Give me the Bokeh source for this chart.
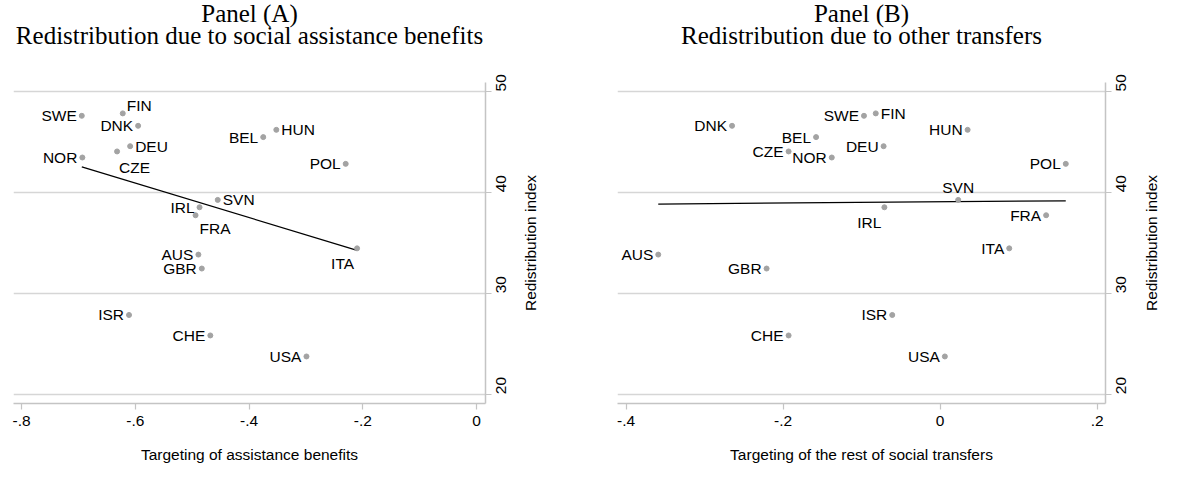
import math
import numpy as np
from bokeh.plotting import figure
from bokeh.layouts import row
from bokeh.models import FixedTicker, ColumnDataSource, Range1d, Title
from bokeh.core.properties import value
from bokeh.embed import file_html
from bokeh.resources import INLINE

# ---------------- data ----------------
countries = ["SWE", "FIN", "DNK", "DEU", "CZE", "NOR", "BEL", "HUN", "POL",
             "SVN", "IRL", "FRA", "AUS", "GBR", "ITA", "ISR", "CHE", "USA"]
redistribution = [47.58, 47.82, 46.59, 44.57, 44.05, 43.45, 45.47, 46.19, 42.82,
                  39.25, 38.52, 37.73, 33.83, 32.45, 34.45, 27.85, 25.82, 23.74]
targeting_assistance = [-0.694, -0.622, -0.595, -0.609, -0.632, -0.693, -0.375, -0.352, -0.230,
                        -0.455, -0.487, -0.494, -0.489, -0.483, -0.210, -0.611, -0.468, -0.299]
targeting_other = [-0.097, -0.082, -0.265, -0.072, -0.193, -0.138, -0.158, 0.035, 0.160,
                   0.023, -0.071, 0.135, -0.359, -0.221, 0.088, -0.061, -0.193, 0.006]

xticks_a = [-0.8, -0.6, -0.4, -0.2, 0.0]
xtick_labels_a = ["-.8", "-.6", "-.4", "-.2", "0"]
xticks_b = [-0.4, -0.2, 0.0, 0.2]
xtick_labels_b = ["-.4", "-.2", "0", ".2"]
yticks = [20, 30, 40, 50]
ytick_labels = ["20", "30", "40", "50"]
y_title = "Redistribution index"

# marker-label clock positions (styling)
pos_a = {"SWE": 9, "FIN": 2, "DNK": 9, "DEU": 3, "CZE": 5, "NOR": 9, "BEL": 9, "HUN": 3,
         "POL": 9, "SVN": 3, "IRL": 9, "FRA": 4, "AUS": 9, "GBR": 9, "ITA": 7, "ISR": 9,
         "CHE": 9, "USA": 9}
pos_b = {"SWE": 9, "FIN": 3, "DNK": 9, "DEU": 9, "CZE": 9, "NOR": 9, "BEL": 9, "HUN": 9,
         "POL": 9, "SVN": 12, "IRL": 7, "FRA": 9, "AUS": 9, "GBR": 9, "ITA": 9, "ISR": 9,
         "CHE": 9, "USA": 9}
clock = {9: ("right", -5, 0), 3: ("left", 5, 0), 12: ("center", 0, -12),
         2: ("left", 4, -8), 4: ("left", 4, 13), 5: ("left", 2, 16), 7: ("right", -3, 15)}

SANS = "Liberation Sans"
SERIF = "Liberation Serif"
FS = "15.5px"
GRID = "#d6d6d6"
AXIS = "#c4c4c4"
DOT = "#a3a3a3"
YR = (19.08, 50.88)
H, FH, BT, BB = 489, 321, 82, 86


def ytitle(text, standoff):
    return Title(text=text, align="center", text_font=SANS, text_font_size=FS,
                 text_font_style="normal", text_color="black", standoff=standoff)


def panel(xvals, xticks, xlabels, xr, title1, title2, xtitle, pos,
          border_left, frame_w, border_right, left_label_gap=None):
    p = figure(width=border_left + frame_w + border_right, height=H,
               frame_width=frame_w, frame_height=FH,
               x_range=Range1d(*xr), y_range=Range1d(*YR),
               y_axis_location="right", output_backend="svg",
               toolbar_location=None, tools="",
               min_border_left=border_left, min_border_right=border_right,
               min_border_top=BT, min_border_bottom=BB)
    p.outline_line_color = None
    p.background_fill_color = "white"
    p.border_fill_color = "white"

    # spacer between the title block and the plot frame, then two title lines
    p.add_layout(Title(text=" ", text_font_size="1px", standoff=31), "above")
    p.add_layout(Title(text=title2, align="center", text_font=SERIF,
                       text_font_size="25px", text_font_style="normal",
                       text_color="black", standoff=0), "above")
    p.add_layout(Title(text=title1, align="center", text_font=SERIF,
                       text_font_size="25px", text_font_style="normal",
                       text_color="black", standoff=-14), "above")

    # y title of the panel on the left (belongs to the previous panel's axis)
    if left_label_gap is not None:
        p.add_layout(Title(text=" ", text_font_size="1px", standoff=left_label_gap), "left")
        p.add_layout(ytitle(y_title, 0), "left")

    xa = p.xaxis[0]
    xa.ticker = FixedTicker(ticks=xticks)
    xa.major_label_overrides = {t: l for t, l in zip(xticks, xlabels)}
    xa.axis_label = xtitle
    ya = p.yaxis[0]
    ya.ticker = FixedTicker(ticks=yticks)
    ya.major_label_overrides = {t: l for t, l in zip(yticks, ytick_labels)}
    ya.major_label_orientation = math.pi / 2
    for ax in (xa, ya):
        ax.axis_line_color = AXIS
        ax.axis_line_width = 1.5
        ax.major_tick_line_color = AXIS
        ax.major_tick_line_width = 1.2
        ax.major_tick_in = 0
        ax.major_tick_out = 6
        ax.minor_tick_line_color = None
        ax.major_label_text_font = SANS
        ax.major_label_text_font_size = FS
        ax.major_label_text_color = "black"
        ax.axis_label_text_font = SANS
        ax.axis_label_text_font_size = FS
        ax.axis_label_text_font_style = "normal"
        ax.axis_label_text_color = "black"
    xa.major_label_standoff = 6
    xa.axis_label_standoff = 17
    ya.major_label_standoff = 10

    p.xgrid.visible = False
    p.ygrid.ticker = FixedTicker(ticks=yticks)
    p.ygrid.grid_line_color = GRID
    p.ygrid.grid_line_width = 1.6

    # fitted line (OLS of redistribution on targeting)
    slope, icpt = np.polyfit(np.array(xvals), np.array(redistribution), 1)
    fx = np.array([min(xvals), max(xvals)])
    p.line(fx, icpt + slope * fx, line_color="black", line_width=1.2)

    src = ColumnDataSource(dict(
        x=xvals, y=redistribution, name=countries,
        align=[clock[pos[c]][0] for c in countries],
        dx=[clock[pos[c]][1] for c in countries],
        dy=[clock[pos[c]][2] for c in countries]))
    p.scatter("x", "y", source=src, size=5, fill_color=DOT, line_color=DOT)
    p.text("x", "y", text="name", source=src, text_align="align",
           x_offset="dx", y_offset="dy", text_baseline="middle",
           text_font=value(SANS), text_font_size=FS, text_color="black")
    return p


pA = panel(targeting_assistance, xticks_a, xtick_labels_a, (-0.8141, 0.0158),
           "Panel (A)", "Redistribution due to social assistance benefits",
           "Targeting of assistance benefits", pos_a, 13, 472, 34)
pB = panel(targeting_other, xticks_b, xtick_labels_b, (-0.4109, 0.2106),
           "Panel (B)", "Redistribution due to other transfers",
           "Targeting of the rest of social transfers", pos_b, 98, 488, 34,
           left_label_gap=76)

# narrow strip carrying panel B's y-axis title
pC = figure(width=21, height=H, frame_width=1, frame_height=FH,
            x_range=Range1d(0, 1), y_range=Range1d(*YR),
            x_axis_location=None, y_axis_location=None,
            output_backend="svg", toolbar_location=None, tools="",
            min_border_left=20, min_border_right=0,
            min_border_top=BT, min_border_bottom=BB)
pC.outline_line_color = None
pC.xgrid.visible = False
pC.ygrid.visible = False
pC.add_layout(ytitle(y_title, 0), "left")

layout = row(pA, pB, pC)
open("out.html", "w").write(file_html(layout, INLINE))
